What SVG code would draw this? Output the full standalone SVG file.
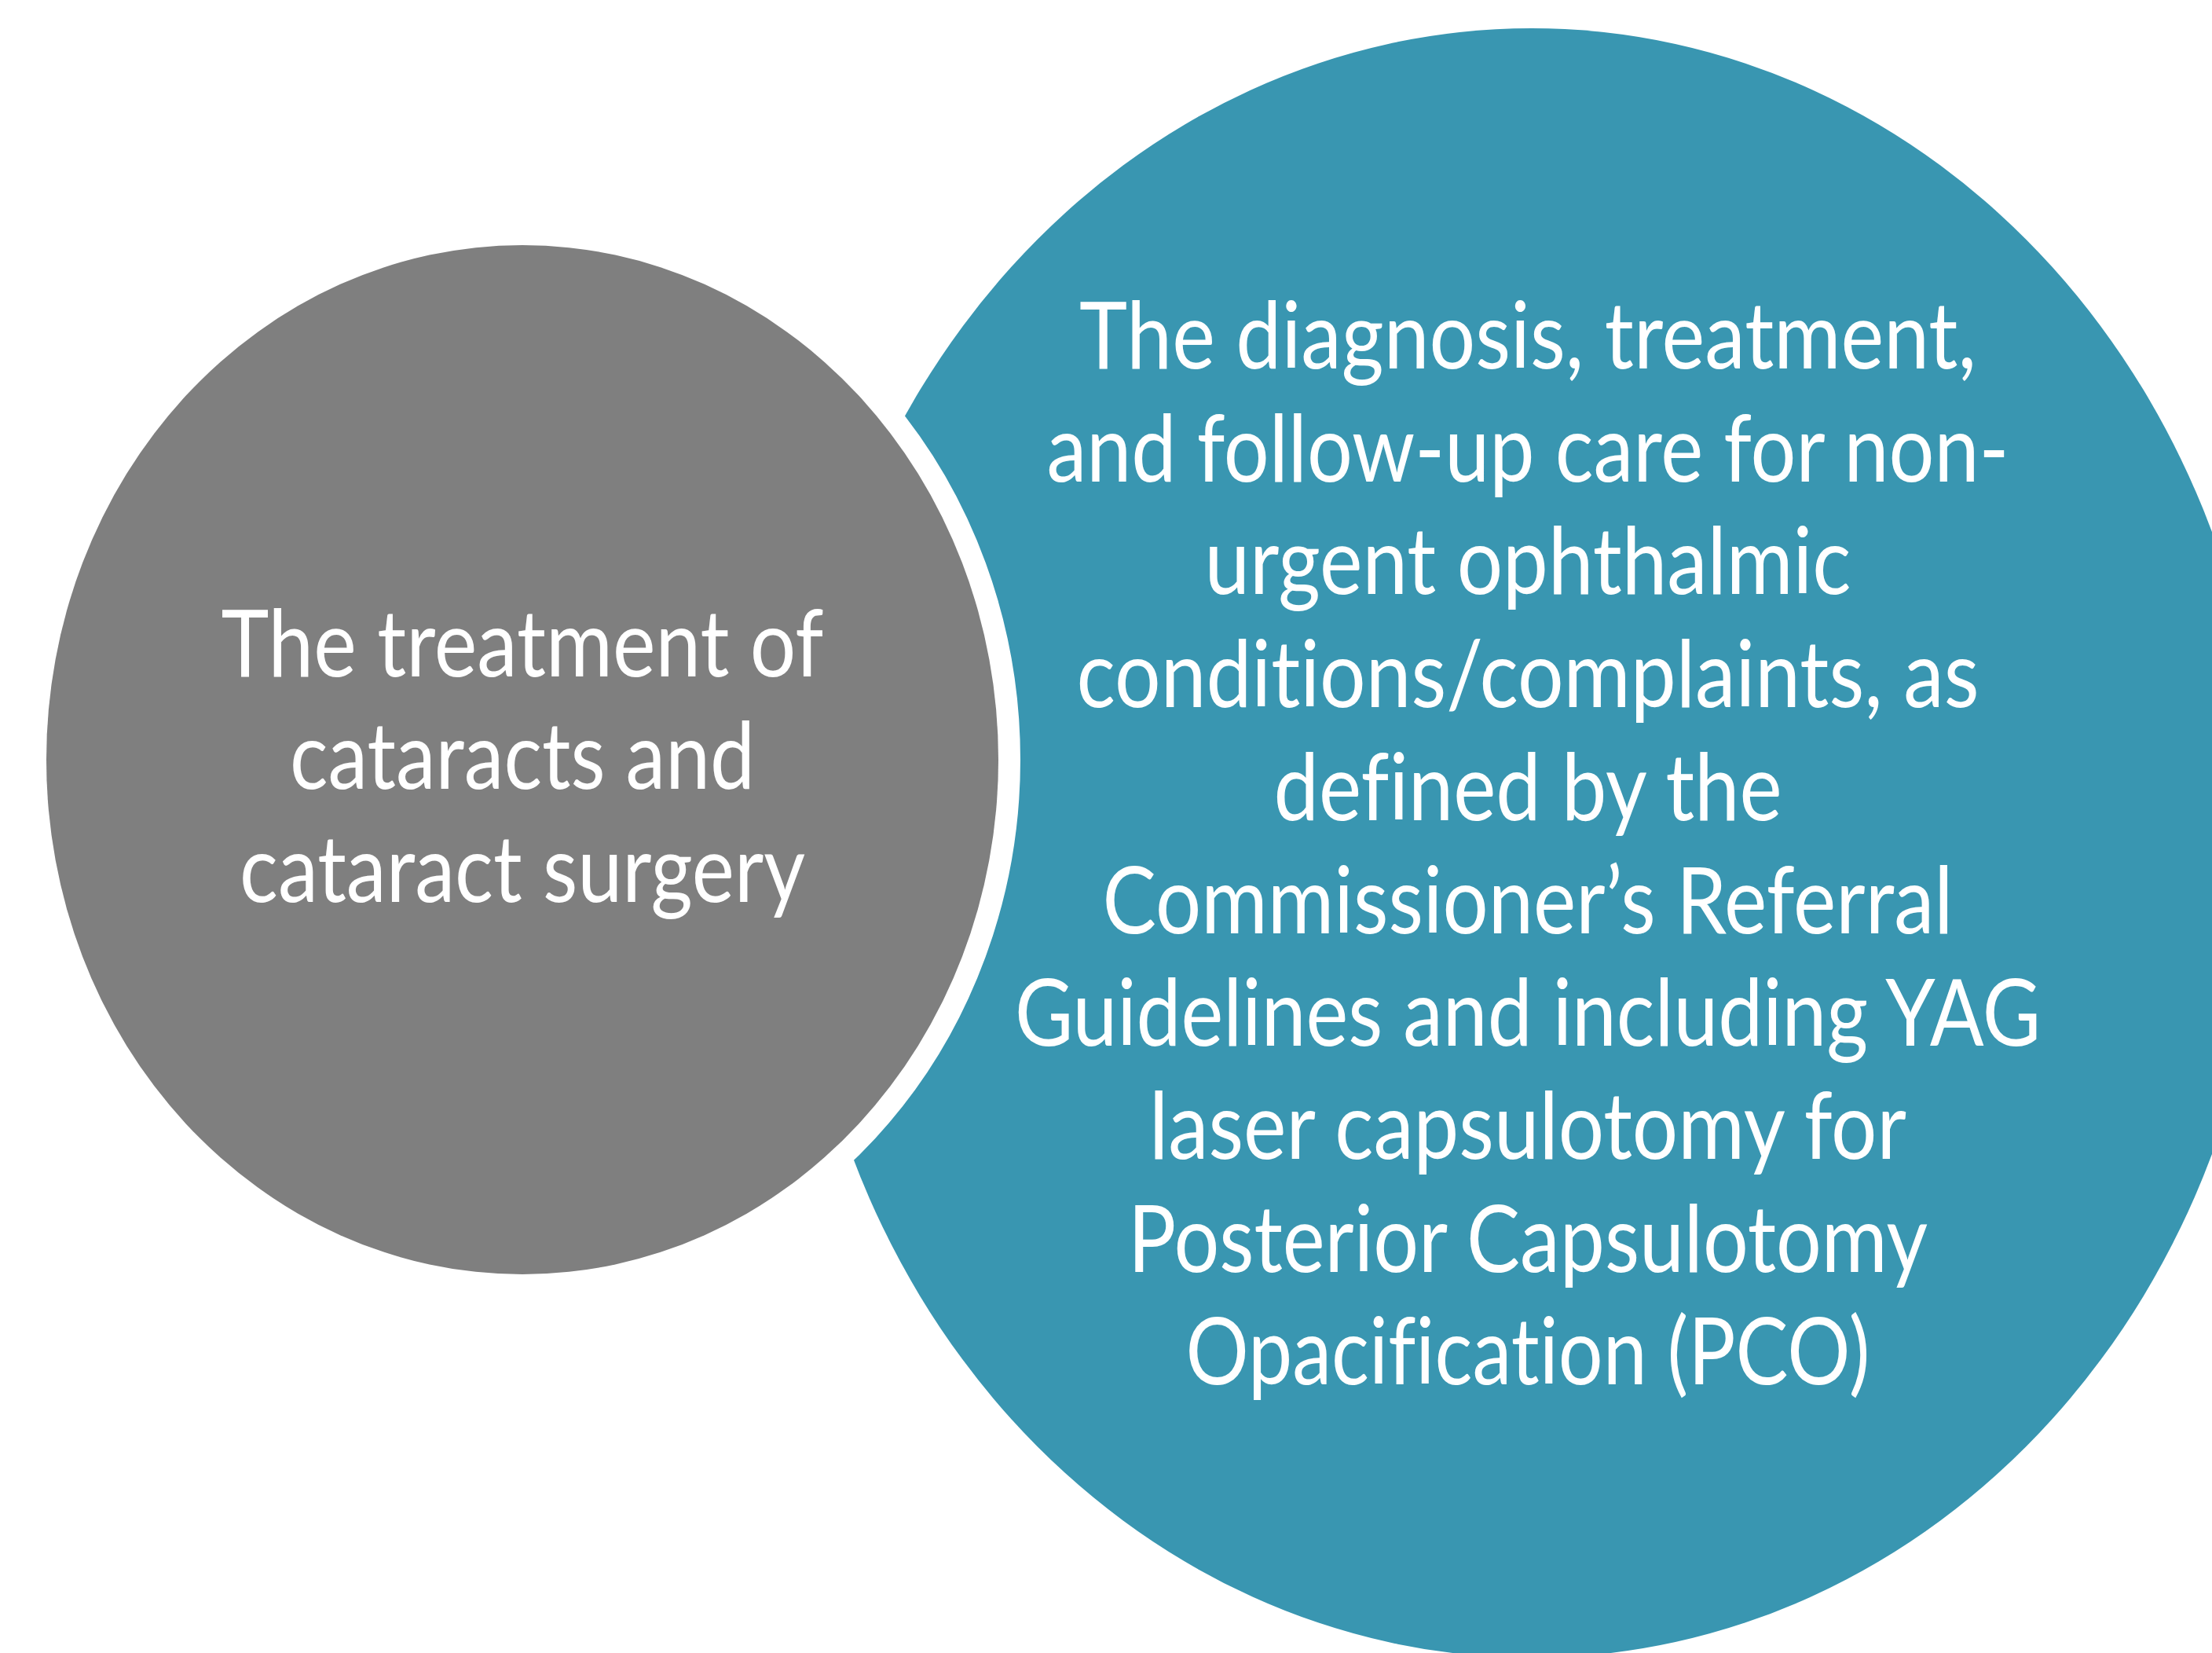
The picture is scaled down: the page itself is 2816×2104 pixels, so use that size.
<svg xmlns="http://www.w3.org/2000/svg" width="2816" height="2104" viewBox="0 0 2816 2104">
  <style>
    .lbl { font-family: Lato, "Open Sans", "Liberation Sans", sans-serif; font-size: 118px; fill: #FFFFFF; text-anchor: middle; font-variant-ligatures: none; font-feature-settings: "liga" 0, "clig" 0, "dlig" 0; }
  </style>
  <rect x="0" y="0" width="2816" height="2104" fill="#FFFFFF"/>
  <g id="connectors"/>
  <g id="node-teal">
    <ellipse cx="1950" cy="1073" rx="937" ry="1037" fill="#3996B1"/>
    <text class="lbl" x="1945" y="469" textLength="1142" lengthAdjust="spacingAndGlyphs">The diagnosis, treatment,</text>
    <text class="lbl" x="1945" y="613" textLength="1225" lengthAdjust="spacingAndGlyphs">and follow-up care for non-</text>
    <text class="lbl" x="1945" y="756" textLength="823" lengthAdjust="spacingAndGlyphs">urgent ophthalmic</text>
    <text class="lbl" x="1945" y="900" textLength="1149" lengthAdjust="spacingAndGlyphs">conditions/complaints, as</text>
    <text class="lbl" x="1945" y="1044" textLength="647" lengthAdjust="spacingAndGlyphs">defined by the</text>
    <text class="lbl" x="1945" y="1188" textLength="1083" lengthAdjust="spacingAndGlyphs">Commissioner’s Referral</text>
    <text class="lbl" x="1945" y="1331" textLength="1306" lengthAdjust="spacingAndGlyphs">Guidelines and including YAG</text>
    <text class="lbl" x="1945" y="1475" textLength="964" lengthAdjust="spacingAndGlyphs">laser capsulotomy for</text>
    <text class="lbl" x="1945" y="1619" textLength="1018" lengthAdjust="spacingAndGlyphs">Posterior Capsulotomy</text>
    <text class="lbl" x="1945" y="1762" textLength="871" lengthAdjust="spacingAndGlyphs">Opacification (PCO)</text>
  </g>
  <g id="node-gray">
    <ellipse cx="665" cy="967" rx="606" ry="655" fill="#7F7F7F" stroke="#FFFFFF" stroke-width="56" paint-order="stroke fill"/>
    <text class="lbl" x="665" y="861" textLength="767" lengthAdjust="spacingAndGlyphs">The treatment of</text>
    <text class="lbl" x="665" y="1004" textLength="592" lengthAdjust="spacingAndGlyphs">cataracts and</text>
    <text class="lbl" x="665" y="1148" textLength="720" lengthAdjust="spacingAndGlyphs">cataract surgery</text>
  </g>
</svg>
